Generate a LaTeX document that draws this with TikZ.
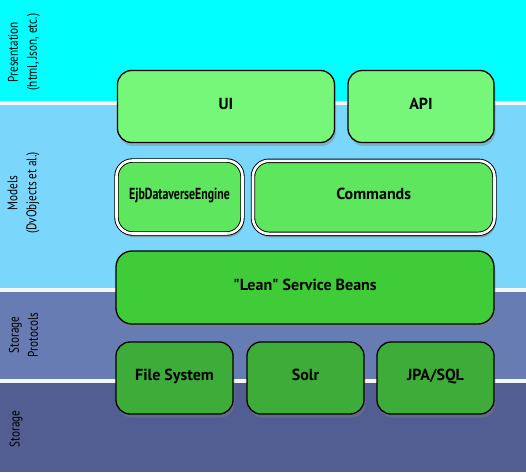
\documentclass[tikz,border=0pt]{standalone}
\usepackage{fontspec}
\setmainfont[Ligatures=TeXOff]{PT Sans}
\newfontfamily\narrowfont[FakeStretch=0.8]{PT Sans}
\newfontfamily\ejbfont[FakeStretch=0.74]{PT Sans}
\usetikzlibrary{shadows}

\definecolor{presbg}{RGB}{0,255,255}
\definecolor{modelbg}{RGB}{122,214,250}
\definecolor{protobg}{RGB}{104,124,180}
\definecolor{storebg}{RGB}{82,94,146}
\definecolor{sepline}{RGB}{244,246,248}
\definecolor{uigreen}{RGB}{118,247,122}
\definecolor{cmdgreen}{RGB}{94,230,94}
\definecolor{leangreen}{RGB}{64,204,56}
\definecolor{storegreen}{RGB}{62,172,56}

\begin{document}
\begin{tikzpicture}[x=1pt,y=-1pt,
    tier/.style={rotate=90,align=center,inner sep=0pt,
        font=\narrowfont\fontsize{14}{19}\selectfont},
    box/.style={draw=black,line width=1.3pt,rounded corners=14pt,inner sep=0pt,
        text height=11pt,text depth=6pt,
        font=\fontsize{16}{18}\selectfont\bfseries,
        drop shadow={shadow xshift=1.5pt,shadow yshift=-3.5pt,opacity=0.4}},
    dbox/.style={box,line width=0.9pt,double=white,double distance=2.6pt,
        rounded corners=16pt}]
    \useasboundingbox (0,0) rectangle (526,472);

    % layers
    \fill[presbg] (0,0) rectangle (526,101);
    \fill[sepline] (0,101) rectangle (526,104.5);
    \fill[modelbg] (0,104.5) rectangle (526,287.5);
    \fill[sepline] (0,287.5) rectangle (526,291.5);
    \fill[protobg] (0,291.5) rectangle (526,378.5);
    \fill[sepline] (0,378.5) rectangle (526,382.5);
    \fill[storebg] (0,382.5) rectangle (526,472);

    \begin{scope}[every node/.style={tier}]
        \node (presentation) at (24,52) {Presentation\\(html, Json, etc.)};
        \node (models) at (23.5,193) {Models\\(DvObjects et al.)};
        \node (protocols) at (23.5,335) {Storage\\Protocols};
        \node (storage) at (16,429) {Storage};
    \end{scope}

    % components
    \begin{scope}[every node/.style={box}]
        \node[fill=uigreen,minimum width=217pt,minimum height=72pt] (ui) at (226,106.5) {UI};
        \node[fill=uigreen,minimum width=146pt,minimum height=72pt] (api) at (421,106.5) {API};
        \node[dbox,fill=cmdgreen,minimum width=126pt,minimum height=73pt,
            font=\ejbfont\fontsize{16}{18}\selectfont\bfseries] (engine) at (179.5,197) {EjbDataverseEngine};
        \node[dbox,fill=cmdgreen,minimum width=241.5pt,minimum height=73pt] (commands) at (373.7,197.3) {Commands};
        \node[fill=leangreen,rounded corners=16pt,minimum width=378pt,minimum height=73pt] (beans) at (305,287.5) {"Lean" Service Beans};
        \node[fill=storegreen,minimum width=117pt,minimum height=72pt] (files) at (174.5,378) {File System};
        \node[fill=storegreen,minimum width=117pt,minimum height=72pt] (solr) at (305.5,378) {Solr};
        \node[fill=storegreen,minimum width=117pt,minimum height=72pt] (jpa) at (435.5,378) {JPA/SQL};
    \end{scope}
\end{tikzpicture}
\end{document}
